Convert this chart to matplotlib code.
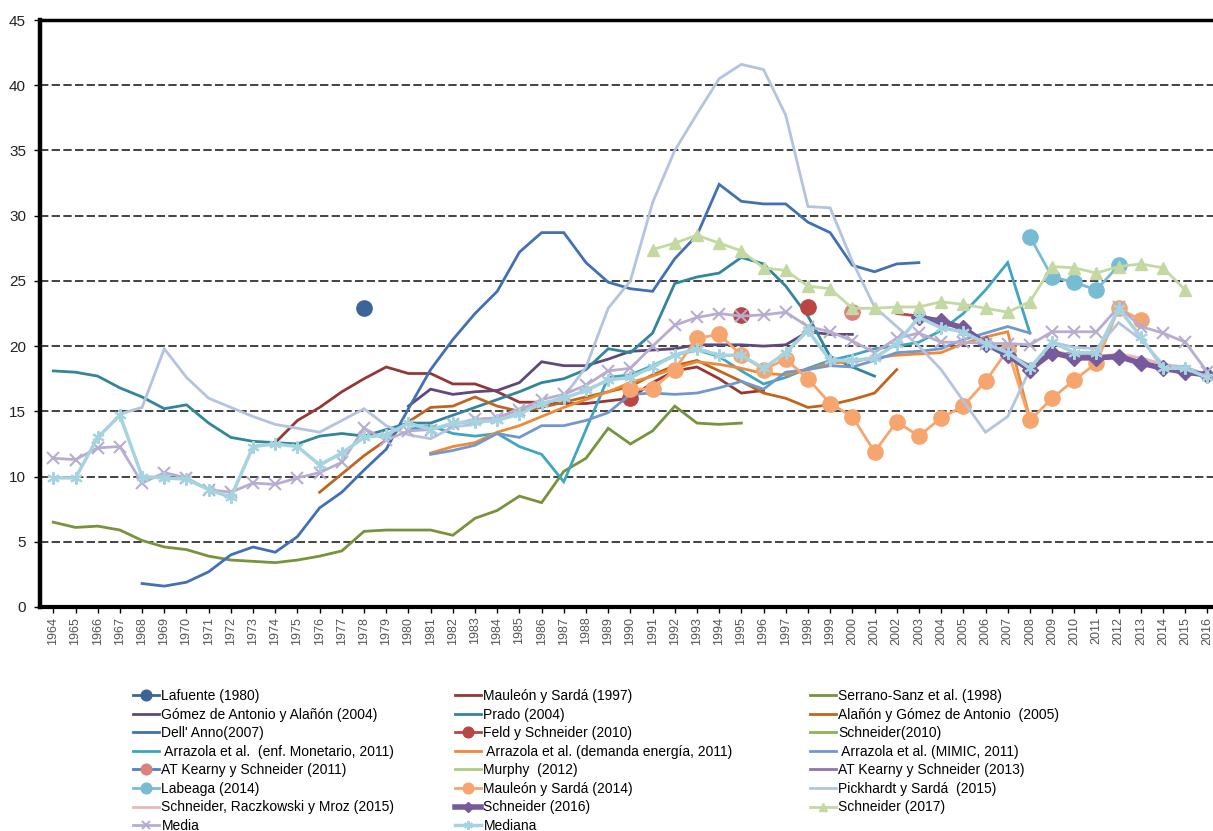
import numpy as np
import matplotlib
matplotlib.use('Agg')
import matplotlib.pyplot as plt

nan = np.nan

# years on the x axis
years = list(range(1964, 2017))

# series (start year / values)
lafuente_years = [1978]
lafuente = [22.9]

mauleon97_years = list(range(1974, 1997))
mauleon97 = [12.6, 14.3, 15.3, 16.5, 17.5, 18.4, 17.9, 17.9, 17.1, 17.1, 16.5, 15.7,
             15.7, 15.6, 15.6, 15.8, 16.0, 17.2, 18.1, 18.4, 17.5, 16.4, 16.6]

serrano_years = list(range(1964, 1996))
serrano = [6.5, 6.1, 6.2, 5.9, 5.1, 4.6, 4.4, 3.9, 3.6, 3.5, 3.4, 3.6, 3.9, 4.3, 5.8, 5.9,
           5.9, 5.9, 5.5, 6.8, 7.4, 8.5, 8.0, 10.4, 11.4, 13.7, 12.5, 13.5, 15.4, 14.1, 14.0, 14.1]

gomez04_years = list(range(1980, 2001))
gomez04 = [15.4, 16.7, 16.3, 16.5, 16.6, 17.2, 18.8, 18.5, 18.5, 19.0, 19.6, 19.7, 19.8,
           20.1, 20.1, 20.1, 20.0, 20.1, 21.1, 20.9, 20.9]

prado_years = list(range(1964, 2002))
prado = [18.1, 18.0, 17.7, 16.8, 16.1, 15.2, 15.5, 14.1, 13.0, 12.7, 12.6, 12.5, 13.1, 13.3,
         13.1, 13.6, 14.1, 14.1, 14.7, 15.3, 15.9, 16.5, 17.2, 17.5, 18.2, 19.8, 19.5, 21.0,
         24.8, 25.3, 25.6, 26.8, 26.3, 24.6, 22.3, 19.2, 18.4, 17.7]

alanon05_years = list(range(1976, 2003))
alanon05 = [8.8, 10.2, 11.6, 12.8, 14.2, 15.3, 15.4, 16.1, 15.4, 15.0, 15.3, 15.7, 16.1, 16.5,
            16.9, 17.8, 18.5, 18.9, 18.1, 17.3, 16.4, 16.0, 15.3, 15.5, 15.9, 16.4, 18.2]

dellanno_years = list(range(1968, 2004))
dellanno = [1.8, 1.6, 1.9, 2.7, 4.0, 4.6, 4.2, 5.4, 7.6, 8.8, 10.5, 12.1, 15.2, 18.2, 20.5,
            22.5, 24.2, 27.2, 28.7, 28.7, 26.4, 24.9, 24.4, 24.2, 26.7, 28.5, 32.4, 31.1,
            30.9, 30.9, 29.5, 28.7, 26.2, 25.7, 26.3, 26.4]

feld_years = [1990, 1991, 1995, 1996, 1998, 1999, 2002, 2003]
feld = [16.0, nan, 22.4, nan, 23.0, nan, 22.5, 22.3]

arr_mon_years = list(range(1980, 2009))
arr_mon = [13.6, 13.9, 13.3, 13.1, 13.3, 12.3, 11.7, 9.6, 13.6, 17.6, 17.8, 18.5, 19.3, 19.7,
           19.2, 18.1, 17.1, 17.6, 18.3, 18.9, 19.3, 19.8, 20.0, 20.3, 21.2, 22.5, 24.3, 26.4, 21.0]

arr_dem_years = list(range(1981, 2009))
arr_dem = [11.8, 12.3, 12.6, 13.4, 13.9, 14.6, 15.3, 15.9, 16.5, 17.2, 17.7, 18.3, 18.8, 18.6,
           18.3, 17.9, 17.8, 18.2, 18.7, 18.8, 19.1, 19.3, 19.4, 19.5, 20.2, 20.7, 21.1, 14.4]

arr_mimic_years = list(range(1981, 2009))
arr_mimic = [11.7, 12.0, 12.4, 13.3, 13.0, 13.9, 13.9, 14.3, 14.9, 16.3, 16.4, 16.3, 16.4, 16.8,
             17.3, 16.7, 18.0, 18.2, 18.5, 18.4, 18.9, 19.5, 19.6, 19.8, 20.5, 21.0, 21.5, 21.0]

atk11_years = [2000]
atk11 = [22.6]

atk13_years = list(range(2003, 2014))
atk13 = [22.3, 22.0, 21.3, 20.2, 19.4, 18.5, 19.5, 19.4, 19.2, 19.2, 18.6]

labeaga_years = list(range(2008, 2013))
labeaga = [28.4, 25.3, 24.9, 24.3, 26.2]

mauleon14_years = list(range(1990, 2014))
mauleon14 = [16.7, 16.7, 18.2, 20.6, 20.9, 19.3, 18.2, 19.0, 17.5, 15.6, 14.6, 11.9, 14.2,
             13.1, 14.5, 15.4, 17.3, 19.7, 14.3, 16.0, 17.4, 18.7, 22.9, 22.0]

pickhardt_years = list(range(1967, 2017))
pickhardt = [14.8, 15.3, 19.8, 17.6, 16.0, 15.3, 14.6, 14.0, 13.7, 13.4, 14.3, 15.2, 13.9, 13.2,
             12.9, 13.8, 14.0, 14.5, 15.2, 15.5, 16.1, 18.4, 22.9, 25.0, 31.0, 35.0, 37.8, 40.5,
             41.6, 41.2, 37.7, 30.7, 30.6, 26.5, 23.0, 21.5, 20.0, 18.2, 15.8, 13.4, 14.6, 18.2,
             20.3, 19.9, 19.8, 21.8, 20.5, 18.6, 18.4, 17.8]

srm15_years = list(range(2008, 2016))
srm15 = [18.4, 19.6, 19.3, 19.2, 19.4, 19.1, 18.6, 18.2]

schneider16_years = list(range(2003, 2017))
schneider16 = [22.2, 21.9, 21.4, 20.2, 19.3, 18.2, 19.5, 19.1, 19.1, 19.2, 18.7, 18.3, 18.0, 17.8]

schneider17_years = list(range(1991, 2016))
schneider17 = [27.4, 27.9, 28.5, 27.9, 27.3, 26.0, 25.8, 24.6, 24.4, 22.9, 22.9, 23.0, 23.0,
               23.4, 23.2, 22.9, 22.6, 23.4, 26.1, 26.0, 25.6, 26.1, 26.3, 26.0, 24.3]

media = [11.4, 11.3, 12.2, 12.3, 9.5, 10.3, 9.9, 9.0, 8.8, 9.5,
         9.4, 9.9, 10.3, 11.1, 13.7, 12.8, 13.5, 13.6, 14.0, 14.4,
         14.5, 15.1, 15.9, 16.3, 17.0, 18.1, 18.3, 20.0, 21.6, 22.2,
         22.5, 22.3, 22.4, 22.6, 21.5, 21.1, 20.4, 19.5, 20.6, 21.0,
         20.3, 20.3, 20.2, 20.2, 20.1, 21.1, 21.1, 21.1, 23.0, 21.5,
         21.0, 20.3, 18.0]

mediana = [9.9, 9.9, 13.0, 14.7, 10.0, 9.9, 9.8, 9.0, 8.4, 12.3,
           12.5, 12.3, 10.9, 11.8, 13.0, 13.2, 14.1, 13.6, 14.1, 14.2,
           14.3, 14.8, 15.6, 16.0, 16.6, 17.4, 17.6, 18.4, 19.3, 19.8,
           19.3, 19.3, 18.3, 19.5, 21.2, 18.9, 18.9, 19.1, 20.2, 22.2,
           21.4, 21.1, 20.2, 19.5, 18.3, 20.3, 19.5, 19.5, 22.9, 20.7,
           18.3, 18.3, 17.6]

plt.rcParams['font.family'] = ['Liberation Sans', 'DejaVu Sans']

# (label, x, y, style)
series = [
    ('Lafuente (1980)', lafuente_years, lafuente,
     dict(color='#3C6499', marker='o', ms=11, lw=2)),
    ('Mauleón y Sardá (1997)', mauleon97_years, mauleon97, dict(color='#953735', lw=2)),
    ('Serrano-Sanz et al. (1998)', serrano_years, serrano, dict(color='#77933C', lw=2)),
    ('Gómez de Antonio y Alañón (2004)', gomez04_years, gomez04, dict(color='#5F497A', lw=2)),
    ('Prado (2004)', prado_years, prado, dict(color='#31859C', lw=2)),
    ('Alañón y Gómez de Antonio  (2005)', alanon05_years, alanon05, dict(color='#C0651F', lw=2)),
    ("Dell' Anno(2007)", dellanno_years, dellanno, dict(color='#4170B5', lw=2)),
    ('Feld y Schneider (2010)', feld_years, feld,
     dict(color='#B94643', marker='o', ms=11, lw=2, markevery=[0, 2, 4])),
    ('Schneider(2010)', [], [], dict(color='#8DB356', lw=2)),
    (' Arrazola et al.  (enf. Monetario, 2011)', arr_mon_years, arr_mon,
     dict(color='#3FA5C2', lw=2)),
    (' Arrazola et al. (demanda energía, 2011)', arr_dem_years, arr_dem,
     dict(color='#EE8A35', lw=2)),
    (' Arrazola et al. (MIMIC, 2011)', arr_mimic_years, arr_mimic,
     dict(color='#7297D0', lw=2)),
    ('AT Kearny y Schneider (2011)', atk11_years, atk11,
     dict(color='#4F81BD', marker='o', ms=11, lw=2, mfc='#D9827F', mec='#D9827F')),
    ('Murphy  (2012)', [], [], dict(color='#AFCB83', lw=2)),
    ('AT Kearny y Schneider (2013)', atk13_years, atk13, dict(color='#8C77AA', lw=2)),
    ('Labeaga (2014)', labeaga_years, labeaga,
     dict(color='#78BCD4', marker='o', ms=11, lw=2)),
    ('Mauleón y Sardá (2014)', mauleon14_years, mauleon14,
     dict(color='#F6A56E', marker='o', ms=11, lw=2)),
    ('Pickhardt y Sardá  (2015)', pickhardt_years, pickhardt, dict(color='#B3C3E0', lw=2)),
    ('Schneider, Raczkowski y Mroz (2015)', srm15_years, srm15, dict(color='#E6B9B8', lw=2)),
    ('Schneider (2016)', schneider16_years, schneider16,
     dict(color='#775A9C', marker='D', ms=8, lw=4)),
    ('Schneider (2017)', schneider17_years, schneider17,
     dict(color='#C4D8A2', marker='^', ms=9, lw=2)),
    ('Media', years, media,
     dict(color='#B8ADD0', marker='x', ms=8, mew=1.5, lw=2)),
    ('Mediana', years, mediana,
     dict(color='#A6D3E0', marker=(6, 2, 0), ms=9, mew=1.5, lw=2.5)),
]

fig = plt.figure(figsize=(12.13, 8.31), dpi=100)
ax = fig.add_axes([40 / 1213, 1 - 607 / 831, 1 - 40 / 1213, (607 - 20) / 831])

handles = []
for label, xs, ys, style in series:
    h, = ax.plot(xs, ys, label=label, solid_joinstyle='miter', **style)
    handles.append(h)

ax.set_xlim(1963.4, 2016.25)
ax.set_ylim(0, 45)
ax.set_xticks(years)
ax.set_xticklabels([str(y) for y in years], rotation=90, fontsize=9, color='#555555')
ax.set_yticks(range(0, 46, 5))
ax.set_yticklabels([str(v) for v in range(0, 46, 5)], fontsize=11, color='#222222')
ax.tick_params(axis='x', direction='out', length=4, width=1, pad=3)
ax.tick_params(axis='y', direction='out', length=4, width=1, pad=6)

ax.set_axisbelow(True)
ax.yaxis.grid(True, color='#222222', linestyle=(0, (5, 2)), linewidth=1.2)

ax.spines['right'].set_visible(False)
ax.spines['left'].set_linewidth(3.2)
ax.spines['top'].set_linewidth(2.5)
ax.spines['bottom'].set_linewidth(3.0)

# legend: three columns, filled row by row
col_x = [133 / 1213, 455 / 1213, 810 / 1213]
for c in range(3):
    hs = handles[c::3]
    fig.legend(handles=hs, labels=[h.get_label() for h in hs],
               loc='upper left', bbox_to_anchor=(col_x[c], 1 - 689 / 831),
               frameon=False, fontsize=10, handlelength=1.9, handletextpad=0.15,
               labelspacing=0.33, borderpad=0, borderaxespad=0, numpoints=1,
               markerscale=0.7)

fig.savefig('out.png', dpi=100)
